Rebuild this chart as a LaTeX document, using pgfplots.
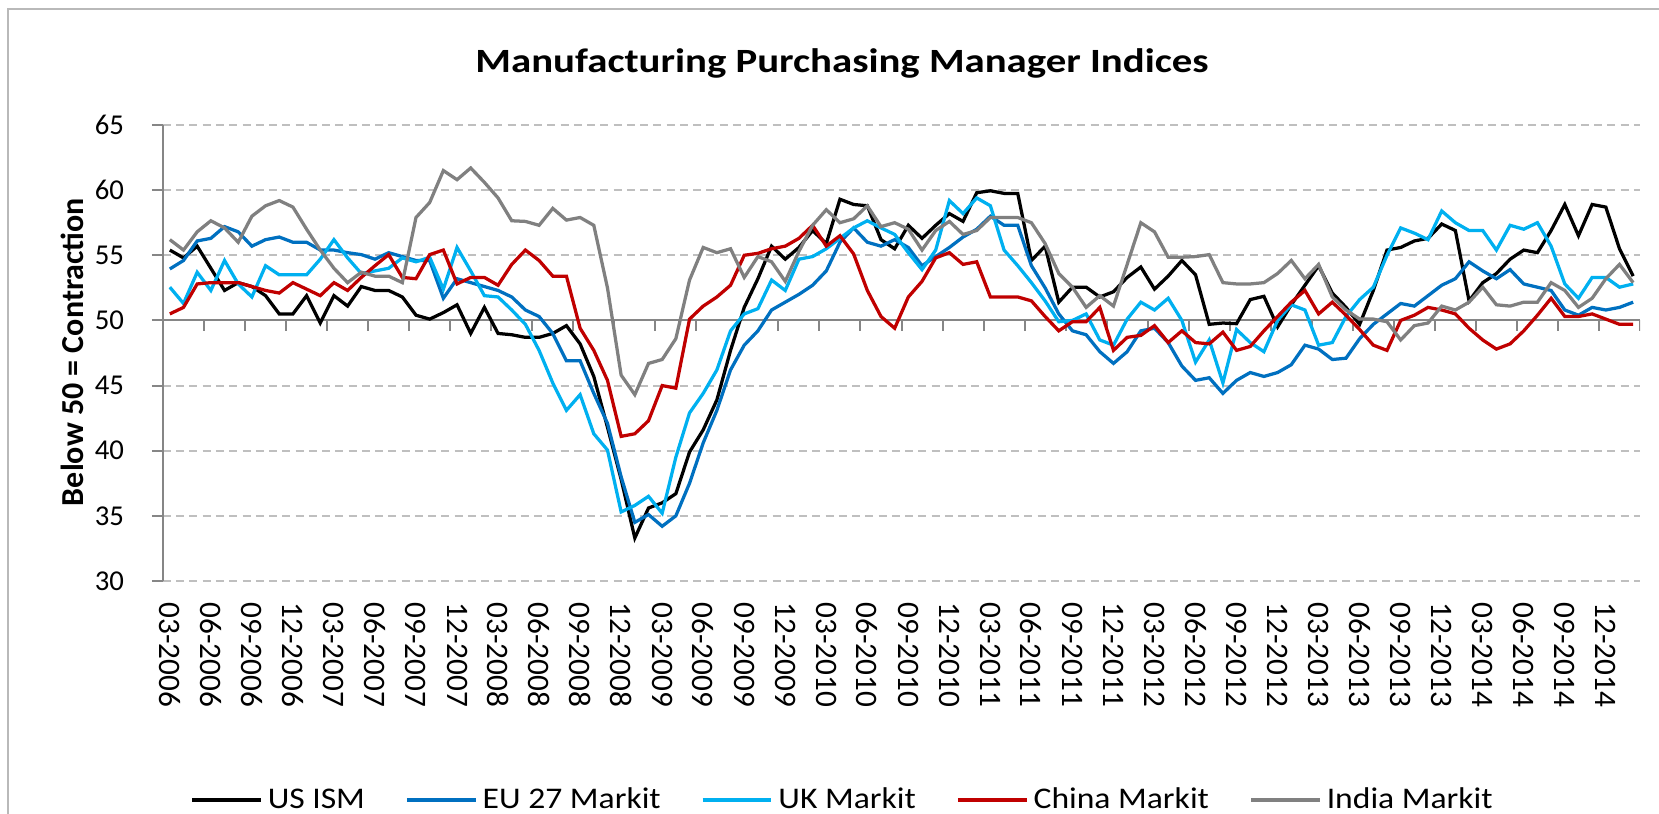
\documentclass[border=0pt]{standalone}
\usepackage{fontspec}
\setmainfont{Carlito}
\newfontfamily\hfont{Carlito}[FakeStretch=1.2]
\newfontfamily\lfont{Carlito}[FakeStretch=1.12]
\usepackage{pgfplots}
\pgfplotsset{compat=1.18}
\usepackage{pgfplotstable}
\definecolor{cUS}{RGB}{0,0,0}
\definecolor{cEU}{RGB}{0,112,192}
\definecolor{cUK}{RGB}{0,176,240}
\definecolor{cCN}{RGB}{192,0,0}
\definecolor{cIN}{RGB}{128,128,128}
\definecolor{axgray}{RGB}{134,134,134}
\definecolor{gridgray}{RGB}{191,191,191}

\pgfplotstableread{
i us eu uk cn in
0 55.4 53.95 52.55 50.5 56.2
1 54.8 54.6 51.3 51.0 55.4
2 55.7 56.1 53.7 52.8 56.8
3 54.0 56.3 52.3 52.9 57.65
4 52.3 57.2 54.6 52.9 57.1
5 52.9 56.8 52.8 52.9 56.0
6 52.6 55.7 51.8 52.6 58.0
7 51.9 56.2 54.2 52.3 58.8
8 50.5 56.4 53.5 52.1 59.2
9 50.5 56.0 53.5 52.9 58.7
10 51.9 56.0 53.5 52.4 57.0
11 49.8 55.4 54.7 51.9 55.4
12 51.9 55.4 56.2 52.9 54.0
13 51.1 55.2 54.8 52.3 52.9
14 52.6 55.05 53.6 53.3 53.7
15 52.3 54.7 53.8 54.2 53.4
16 52.3 55.2 54.0 55.05 53.4
17 51.8 54.9 54.8 53.3 52.9
18 50.4 54.6 54.5 53.2 57.9
19 50.1 54.6 54.85 55.05 59.05
20 50.6 51.7 52.4 55.4 61.5
21 51.2 53.2 55.6 52.8 60.8
22 49.0 52.9 53.8 53.3 61.7
23 51.0 52.6 51.9 53.3 60.6
24 49.0 52.3 51.8 52.7 59.4
25 48.9 51.8 50.8 54.3 57.65
26 48.7 50.8 49.7 55.4 57.6
27 48.7 50.3 47.7 54.6 57.3
28 49.0 49.0 45.2 53.4 58.6
29 49.6 46.9 43.1 53.4 57.7
30 48.2 46.9 44.3 49.4 57.9
31 45.7 44.4 41.3 47.7 57.3
32 41.8 42.1 40.05 45.4 52.5
33 37.8 38.0 35.3 41.1 45.8
34 33.3 34.5 35.8 41.3 44.3
35 35.6 35.1 36.5 42.3 46.7
36 36.0 34.2 35.2 45.0 47.0
37 36.7 35.0 39.5 44.8 48.6
38 39.9 37.5 42.9 50.1 53.1
39 41.6 40.6 44.4 51.1 55.6
40 43.9 43.1 46.2 51.8 55.2
41 47.7 46.2 49.2 52.7 55.5
42 51.0 48.1 50.5 55.0 53.3
43 53.2 49.2 50.9 55.15 54.9
44 55.7 50.8 53.1 55.5 54.5
45 54.7 51.4 52.3 55.7 53.0
46 55.6 52.0 54.7 56.3 55.3
47 56.9 52.7 54.9 57.3 57.3
48 55.9 53.8 55.5 55.7 58.5
49 59.3 56.0 56.3 56.5 57.5
50 58.9 57.1 57.1 55.1 57.8
51 58.8 56.0 57.65 52.3 58.8
52 56.2 55.7 57.1 50.3 57.2
53 55.5 56.2 56.6 49.4 57.5
54 57.3 55.6 55.2 51.8 57.0
55 56.3 54.2 53.9 53.0 55.4
56 57.3 54.9 55.4 54.8 56.9
57 58.2 55.6 59.2 55.2 57.6
58 57.6 56.4 58.2 54.3 56.6
59 59.8 57.0 59.4 54.5 56.9
60 59.95 58.0 58.8 51.8 57.9
61 59.75 57.3 55.4 51.8 57.9
62 59.75 57.3 54.2 51.8 57.9
63 54.6 54.2 52.9 51.5 57.5
64 55.7 52.5 51.5 50.3 55.9
65 51.4 50.5 49.9 49.2 53.6
66 52.55 49.2 50.0 49.9 52.55
67 52.55 48.9 50.5 49.9 51.0
68 51.8 47.6 48.5 51.0 51.9
69 52.2 46.7 48.1 47.7 51.1
70 53.3 47.6 50.1 48.7 54.3
71 54.1 49.2 51.4 48.85 57.5
72 52.4 49.4 50.8 49.6 56.8
73 53.4 48.3 51.7 48.3 54.85
74 54.6 46.5 50.0 49.2 54.85
75 53.5 45.4 46.8 48.3 54.9
76 49.7 45.6 48.5 48.2 55.05
77 49.8 44.4 45.2 49.1 52.9
78 49.75 45.4 49.3 47.7 52.8
79 51.6 46.0 48.3 48.0 52.8
80 51.85 45.7 47.6 49.2 52.9
81 49.5 46.0 50.0 50.3 53.6
82 51.2 46.6 51.2 51.4 54.6
83 52.7 48.1 50.8 52.3 53.2
84 54.2 47.8 48.1 50.5 54.3
85 52.1 47.0 48.3 51.4 51.8
86 51.0 47.1 50.3 50.4 50.8
87 49.7 48.6 51.6 49.3 50.1
88 52.3 49.7 52.55 48.1 50.1
89 55.4 50.5 55.0 47.7 49.9
90 55.6 51.3 57.1 50.0 48.5
91 56.1 51.1 56.7 50.4 49.6
92 56.3 51.9 56.2 51.0 49.8
93 57.4 52.7 58.4 50.8 51.1
94 56.9 53.2 57.5 50.5 50.8
95 51.5 54.5 56.9 49.4 51.4
96 52.9 53.8 56.9 48.5 52.55
97 53.6 53.2 55.4 47.8 51.2
98 54.7 53.9 57.3 48.2 51.1
99 55.4 52.8 57.0 49.2 51.4
100 55.2 52.55 57.5 50.4 51.4
101 56.9 52.3 55.7 51.7 52.9
102 58.9 50.8 52.8 50.3 52.3
103 56.5 50.4 51.7 50.3 51.0
104 58.9 51.0 53.3 50.5 51.7
105 58.7 50.8 53.3 50.1 53.2
106 55.5 51.0 52.55 49.7 54.3
107 53.4 51.4 52.8 49.7 52.9
}\pmi

\begin{document}
\begin{tikzpicture}
\useasboundingbox (-65.2pt,-93.2pt) rectangle (598.4pt,232.4pt);
\draw[gray!55, line width=0.6pt] (-62pt,-100pt) -- (-62pt,228.8pt) -- (610pt,228.8pt);
\begin{axis}[
  at={(0pt,0pt)}, anchor=south west, scale only axis,
  width=590.8pt, height=182.4pt,
  xmin=-0.5, xmax=107.5, ymin=30, ymax=65,
  ytick={30,35,...,65},
  xtick={0,3,...,105},
  xticklabels={03-2006,06-2006,09-2006,12-2006,03-2007,06-2007,09-2007,12-2007,03-2008,06-2008,09-2008,12-2008,03-2009,06-2009,09-2009,12-2009,03-2010,06-2010,09-2010,12-2010,03-2011,06-2011,09-2011,12-2011,03-2012,06-2012,09-2012,12-2012,03-2013,06-2013,09-2013,12-2013,03-2014,06-2014,09-2014,12-2014},
  axis y line*=left, axis x line*=bottom,
  x axis line style={draw=none},
  y axis line style={draw=axgray, line width=0.8pt, -},
  xtick style={draw=none},
  ytick style={draw=axgray, line width=0.8pt},
  tick align=outside, major tick length=4.4pt,
  ymajorgrids,
  grid style={draw=gridgray, line width=0.8pt, dash pattern=on 3.2pt off 2.1pt},
  /pgf/number format/assume math mode=true,
  xticklabel style={rotate=-90, anchor=west, inner sep=0pt, font=\fontsize{12.5}{15}\selectfont},
  xticklabel shift=4pt,
  yticklabel style={anchor=east, inner sep=0pt, font=\fontsize{11.5}{14}\selectfont},
  yticklabel shift=11pt,
  legend style={at={(0.4597,-0.4808)}, anchor=center, draw=none, fill=none,
    legend columns=5, font=\lfont\fontsize{12}{14}\selectfont, inner sep=0pt,
    nodes={inner sep=0.5pt},
    /tikz/every even column/.append style={column sep=15.5pt},
    /tikz/every odd column/.append style={column sep=1.5pt}},
  legend image code/.code={\draw[#1, line width=1.6pt] (0pt,0pt) -- (27.5pt,0pt);},
]
\draw[axgray, line width=0.8pt] (axis cs:-0.5,50) -- (axis cs:107.5,50);
\foreach \t in {2.5,5.5,...,107.5} {
  \edef\temp{\noexpand\draw[axgray, line width=0.8pt] (axis cs:\t,50) -- ++(0pt,-4.4pt);}
  \temp
}
\addplot[cUS, line width=1.3pt] table[x=i, y=us] {\pmi};
\addplot[cEU, line width=1.3pt] table[x=i, y=eu] {\pmi};
\addplot[cUK, line width=1.3pt] table[x=i, y=uk] {\pmi};
\addplot[cCN, line width=1.3pt] table[x=i, y=cn] {\pmi};
\addplot[cIN, line width=1.3pt] table[x=i, y=in] {\pmi};
\legend{US ISM, EU 27 Markit, UK Markit, China Markit, India Markit}
\end{axis}
\node[font=\hfont\bfseries\fontsize{13.6}{16}\selectfont] at (271.6pt,207.2pt) {Manufacturing Purchasing Manager Indices};
\node[rotate=90, font=\bfseries\fontsize{12.8}{15}\selectfont] at (-36.4pt,91.6pt) {Below 50 = Contraction};
\end{tikzpicture}
\end{document}
